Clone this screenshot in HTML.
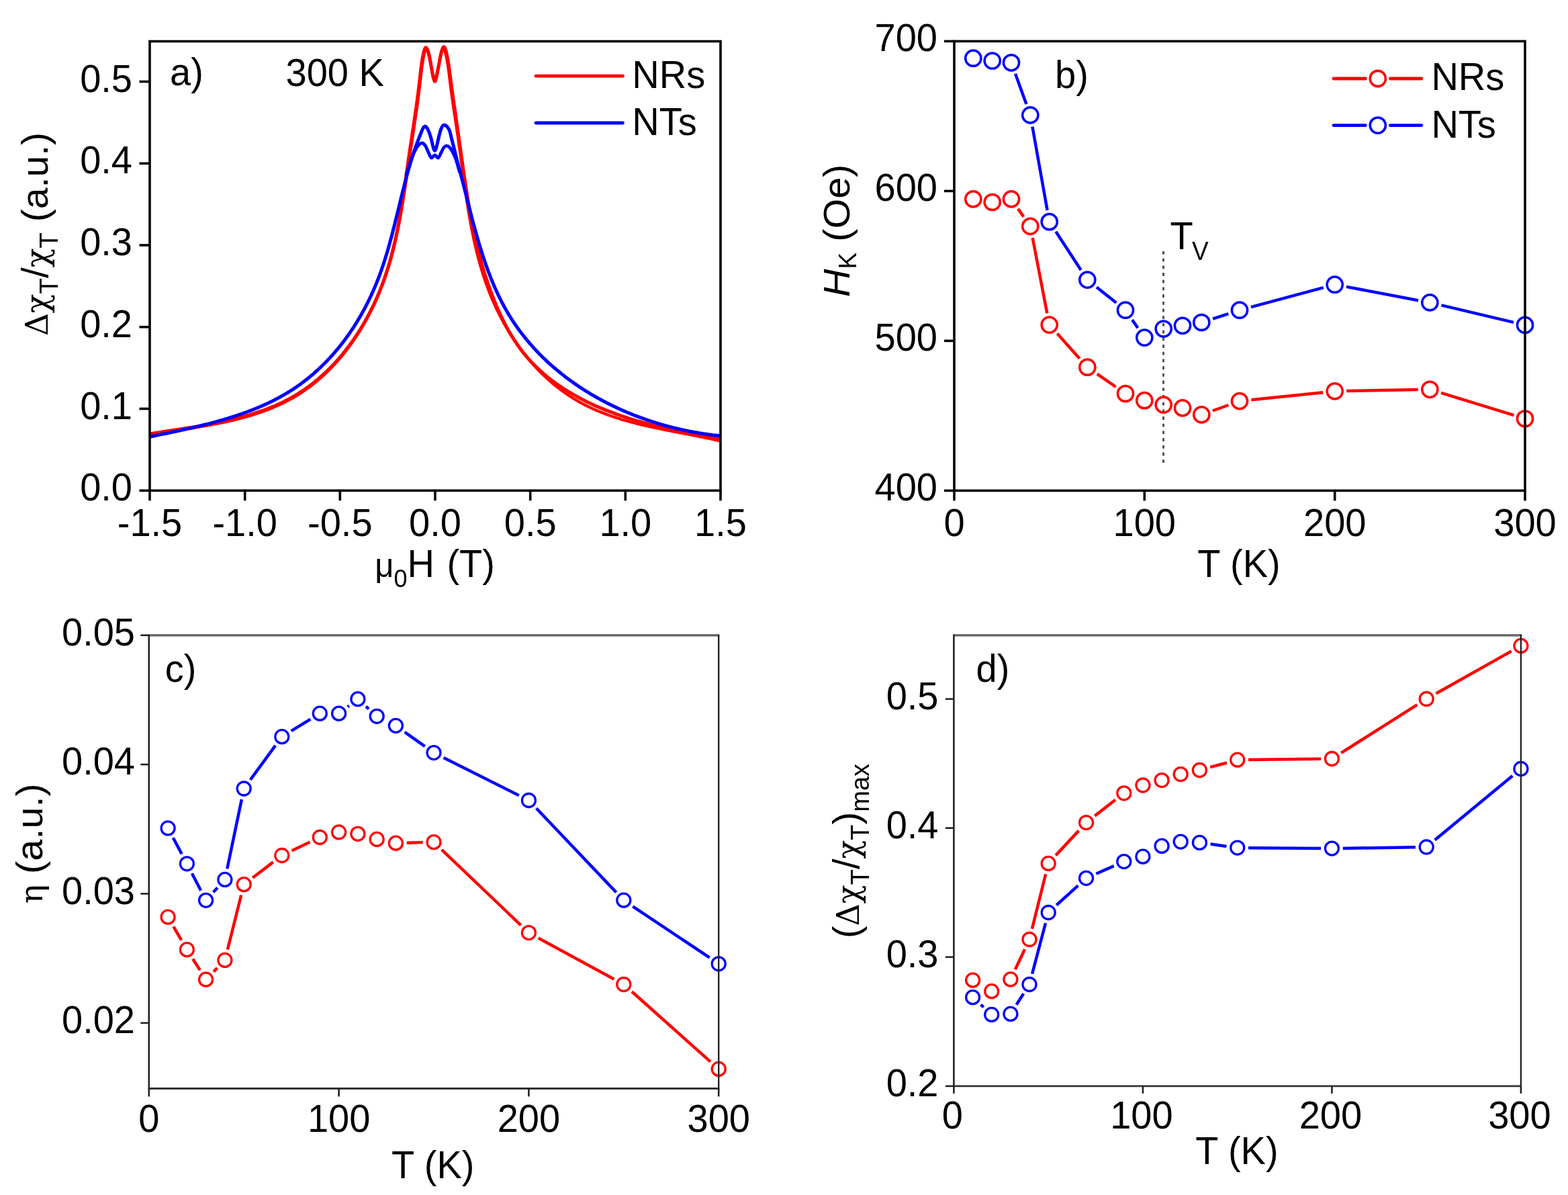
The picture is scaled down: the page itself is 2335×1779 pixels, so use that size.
<!DOCTYPE html><html><head><meta charset="utf-8"><title>Figure</title>
<style>html,body{margin:0;padding:0;background:#fff;}svg{display:block;}text{font-family:'Liberation Sans', Arial, sans-serif;fill:#000;}.g{font-family:'DejaVu Serif','Liberation Serif',serif;font-size:46px;}</style>
</head><body>
<svg width="2335" height="1779" viewBox="0 0 2335 1779">
<rect width="2335" height="1779" fill="#fff"/>
<defs><clipPath id="ca"><rect x="223" y="61.5" width="850" height="668.8"/></clipPath></defs>
<g fill="none" stroke-linejoin="round" stroke-linecap="round" clip-path="url(#ca)">
<path d="M214.7,648.8 L217.9,648.3 L221.1,647.7 L224.3,647.2 L227.6,646.6 L230.9,646.1 L234.1,645.6 L237.4,645.1 L240.8,644.5 L244.1,644 L247.4,643.5 L250.8,643 L254.2,642.5 L257.5,641.9 L260.9,641.4 L264.3,640.9 L267.8,640.4 L271.2,639.8 L274.6,639.3 L278.1,638.8 L281.5,638.2 L285,637.6 L288.4,637.1 L291.9,636.5 L295.4,635.9 L298.8,635.3 L302.3,634.7 L305.8,634.1 L309.3,633.5 L312.7,632.9 L316.2,632.2 L319.7,631.5 L323.2,630.8 L326.7,630.1 L330.1,629.4 L333.6,628.7 L337.1,627.9 L340.5,627.2 L344,626.4 L347.4,625.6 L350.8,624.7 L354.3,623.9 L357.7,623 L361.1,622.1 L364.5,621.1 L367.9,620.2 L371.3,619.2 L374.6,618.2 L378,617.2 L381.3,616.1 L384.6,615 L388,613.9 L391.2,612.7 L394.5,611.5 L397.8,610.3 L401,609 L404.2,607.8 L407.4,606.4 L410.6,605.1 L413.8,603.7 L416.9,602.3 L420,600.8 L423.1,599.3 L426.2,597.7 L429.2,596.2 L432.2,594.5 L435.2,592.9 L438.2,591.2 L441.1,589.4 L444,587.6 L446.9,585.8 L449.7,583.9 L452.6,582 L455.4,580.1 L458.1,578.1 L460.9,576.1 L463.6,574 L466.3,571.9 L469,569.8 L471.6,567.6 L474.2,565.4 L476.8,563.2 L479.3,560.9 L481.9,558.6 L484.4,556.3 L486.9,553.9 L489.3,551.5 L491.7,549.1 L494.1,546.6 L496.5,544.1 L498.8,541.6 L501.1,539.1 L503.4,536.5 L505.7,533.9 L507.9,531.3 L510.1,528.6 L512.3,525.9 L514.4,523.2 L516.6,520.5 L518.6,517.8 L520.7,515 L522.7,512.2 L524.8,509.4 L526.7,506.5 L528.7,503.6 L530.6,500.7 L532.5,497.8 L534.4,494.9 L536.2,492 L538.1,489 L539.9,486 L541.6,483 L543.3,480 L545.1,477 L546.7,473.9 L548.4,470.8 L550,467.7 L551.6,464.6 L553.2,461.5 L554.7,458.4 L556.2,455.3 L557.7,452.1 L559.2,449 L560.6,445.8 L562,442.6 L563.4,439.4 L564.7,436.2 L566,433 L567.3,429.8 L568.6,426.5 L569.8,423.3 L571,420 L572.2,416.8 L573.3,413.5 L574.5,410.3 L575.6,407 L576.6,403.7 L577.7,400.4 L578.7,397.1 L579.7,393.9 L580.7,390.6 L581.6,387.2 L582.5,383.9 L583.4,380.6 L584.3,377.3 L585.2,374 L586,370.6 L586.9,367.3 L587.7,363.9 L588.5,360.6 L589.2,357.2 L590,353.9 L590.7,350.5 L591.4,347.1 L592.1,343.8 L592.8,340.4 L593.5,337 L594.2,333.6 L594.8,330.2 L595.5,326.8 L596.1,323.5 L596.7,320.1 L597.3,316.6 L597.9,313.2 L598.5,309.8 L599,306.4 L599.6,303 L600.2,299.6 L600.7,296.1 L601.3,292.7 L601.8,289.3 L602.3,285.9 L602.9,282.4 L603.4,279 L603.9,275.5 L604.4,272.1 L604.9,268.6 L605.4,265.2 L605.9,261.7 L606.4,258.3 L606.9,254.8 L607.4,251.4 L607.9,247.9 L608.4,244.5 L609,241 L609.5,237.5 L610,234.1 L610.5,230.6 L611,227.2 L611.5,223.7 L612,220.2 L612.6,216.8 L613.1,213.3 L613.6,209.8 L614.1,206.4 L614.7,202.9 L615.2,199.4 L615.7,196 L616.2,192.5 L616.7,189.1 L617.2,185.6 L617.7,182.2 L618.2,178.8 L618.7,175.3 L619.2,171.9 L619.7,168.5 L620.2,165.1 L620.7,161.7 L621.2,158.3 L621.7,154.9 L622.1,151.5 L622.6,148.1 L623,144.7 L623.5,141.3 L623.9,138 L624.3,134.6 L624.7,131.3 L625.1,128 L625.5,124.6 L625.9,121.3 L626.3,118 L626.6,114.8 L627,111.5 L627.4,108.1 L627.8,104.7 L628.2,101.2 L628.7,97.6 L629.3,93.8 L629.9,89.9 L630.6,85.7 L631.5,81.4 L632.4,77.4 L633.4,74.2 L634.5,72.3 L635.7,72.3 L636.9,74.1 L638.1,77.3 L639.2,81.3 L640.2,85.6 L640.9,89.6 L641.5,93.2 L642,96.7 L642.4,100 L642.8,103.3 L643.3,106.8 L643.9,110.6 L644.7,114.7 L645.7,118.5 L646.7,121.1 L647.8,121.6 L648.9,119.8 L649.9,116.4 L650.7,112.3 L651.5,108.4 L652.1,104.8 L652.6,101.4 L653.1,98.1 L653.6,94.7 L654.2,91 L654.9,87 L655.8,82.7 L656.7,78.6 L657.8,75.2 L658.9,72.9 L660,72.1 L661.1,73 L662.2,75.4 L663.3,78.9 L664.3,83 L665.2,87.5 L666,91.9 L666.7,96 L667.3,99.9 L667.8,103.6 L668.3,107.1 L668.7,110.5 L669.1,113.8 L669.5,117.1 L669.9,120.3 L670.3,123.6 L670.7,126.9 L671.1,130.2 L671.6,133.5 L672,136.9 L672.5,140.2 L673,143.6 L673.4,146.9 L673.9,150.3 L674.4,153.7 L674.9,157.1 L675.4,160.5 L675.9,163.9 L676.4,167.3 L676.9,170.7 L677.5,174.1 L678,177.6 L678.5,181 L679,184.5 L679.5,187.9 L680,191.4 L680.5,194.8 L681,198.3 L681.6,201.7 L682.1,205.2 L682.5,208.7 L683,212.1 L683.5,215.6 L684,219.1 L684.5,222.5 L685,226 L685.4,229.5 L685.9,232.9 L686.4,236.4 L686.8,239.9 L687.3,243.4 L687.8,246.8 L688.3,250.3 L688.7,253.8 L689.2,257.2 L689.7,260.7 L690.1,264.2 L690.6,267.6 L691.1,271.1 L691.6,274.6 L692.1,278 L692.6,281.5 L693.1,284.9 L693.6,288.4 L694.1,291.8 L694.6,295.3 L695.1,298.7 L695.6,302.2 L696.2,305.6 L696.7,309 L697.3,312.5 L697.9,315.9 L698.4,319.3 L699,322.8 L699.6,326.2 L700.2,329.6 L700.9,333 L701.5,336.4 L702.1,339.8 L702.8,343.2 L703.5,346.6 L704.2,350 L704.9,353.4 L705.6,356.7 L706.3,360.1 L707.1,363.5 L707.9,366.8 L708.7,370.2 L709.5,373.5 L710.3,376.9 L711.2,380.2 L712,383.5 L712.9,386.8 L713.8,390.2 L714.7,393.5 L715.7,396.8 L716.7,400.1 L717.7,403.3 L718.7,406.6 L719.7,409.9 L720.8,413.1 L721.9,416.4 L723,419.6 L724.1,422.9 L725.3,426.1 L726.5,429.3 L727.7,432.5 L728.9,435.7 L730.2,438.9 L731.5,442.1 L732.9,445.3 L734.2,448.4 L735.6,451.6 L737,454.7 L738.5,457.9 L740,461 L741.5,464.1 L743,467.2 L744.6,470.3 L746.2,473.3 L747.8,476.4 L749.4,479.4 L751.1,482.4 L752.8,485.4 L754.6,488.4 L756.3,491.4 L758.1,494.4 L759.9,497.3 L761.8,500.2 L763.7,503.1 L765.6,506 L767.5,508.8 L769.5,511.7 L771.5,514.5 L773.5,517.3 L775.5,520.1 L777.6,522.8 L779.7,525.5 L781.9,528.3 L784,530.9 L786.2,533.6 L788.4,536.2 L790.7,538.8 L792.9,541.4 L795.2,544 L797.6,546.5 L799.9,549 L802.3,551.5 L804.7,553.9 L807.1,556.3 L809.6,558.7 L812.1,561 L814.6,563.4 L817.1,565.7 L819.7,567.9 L822.3,570.1 L824.9,572.3 L827.6,574.5 L830.3,576.6 L833,578.7 L835.7,580.8 L838.4,582.8 L841.2,584.8 L844,586.7 L846.9,588.7 L849.7,590.5 L852.6,592.4 L855.5,594.2 L858.5,595.9 L861.4,597.7 L864.4,599.4 L867.5,601 L870.5,602.6 L873.6,604.2 L876.7,605.7 L879.8,607.2 L882.9,608.6 L886.1,610 L889.3,611.4 L892.5,612.7 L895.7,614 L899,615.3 L902.2,616.5 L905.5,617.7 L908.8,618.9 L912.1,620.1 L915.5,621.2 L918.8,622.3 L922.2,623.3 L925.5,624.4 L928.9,625.4 L932.3,626.3 L935.7,627.3 L939.1,628.2 L942.6,629.2 L946,630 L949.4,630.9 L952.9,631.8 L956.3,632.6 L959.8,633.4 L963.3,634.2 L966.7,635 L970.2,635.8 L973.7,636.5 L977.1,637.3 L980.6,638 L984.1,638.7 L987.6,639.4 L991,640.1 L994.5,640.8 L998,641.5 L1001.4,642.2 L1004.9,642.9 L1008.3,643.5 L1011.8,644.2 L1015.2,644.8 L1018.6,645.5 L1022,646.2 L1025.5,646.8 L1028.8,647.5 L1032.2,648.1 L1035.6,648.8 L1039,649.4 L1042.3,650.1 L1045.6,650.8 L1049,651.4 L1052.3,652.1 L1055.5,652.8 L1058.8,653.5 L1062.1,654.2 L1065.3,654.9 L1068.5,655.6 L1071.7,656.4 L1074.9,657.1 L1078,657.9 L1081.1,658.7" stroke="#ff0000" stroke-width="4.2"/>
<path d="M214.7,647.3 L217.9,646.8 L221.1,646.2 L224.3,645.7 L227.6,645.1 L230.8,644.6 L234.1,644.1 L237.4,643.6 L240.7,643 L244.1,642.5 L247.4,642 L250.8,641.5 L254.1,641 L257.5,640.5 L260.9,639.9 L264.3,639.4 L267.7,638.9 L271.2,638.4 L274.6,637.8 L278,637.3 L281.5,636.7 L284.9,636.2 L288.4,635.6 L291.8,635.1 L295.3,634.5 L298.8,633.9 L302.2,633.3 L305.7,632.7 L309.2,632 L312.6,631.4 L316.1,630.7 L319.6,630.1 L323,629.4 L326.5,628.7 L330,628 L333.4,627.2 L336.9,626.5 L340.3,625.7 L343.8,624.9 L347.2,624.1 L350.6,623.3 L354.1,622.4 L357.5,621.5 L360.9,620.6 L364.3,619.7 L367.6,618.7 L371,617.8 L374.4,616.7 L377.7,615.7 L381,614.6 L384.4,613.5 L387.7,612.4 L390.9,611.3 L394.2,610.1 L397.5,608.9 L400.7,607.6 L403.9,606.3 L407.1,605 L410.3,603.7 L413.4,602.3 L416.6,600.9 L419.7,599.4 L422.7,597.9 L425.8,596.3 L428.8,594.8 L431.9,593.1 L434.8,591.5 L437.8,589.8 L440.7,588 L443.6,586.3 L446.5,584.4 L449.4,582.6 L452.2,580.7 L455,578.7 L457.8,576.8 L460.5,574.7 L463.3,572.7 L466,570.6 L468.6,568.5 L471.3,566.3 L473.9,564.1 L476.5,561.9 L479,559.7 L481.6,557.4 L484.1,555 L486.6,552.7 L489,550.3 L491.4,547.9 L493.8,545.4 L496.2,543 L498.6,540.5 L500.9,537.9 L503.2,535.4 L505.4,532.8 L507.7,530.1 L509.9,527.5 L512.1,524.8 L514.2,522.1 L516.3,519.4 L518.4,516.7 L520.5,513.9 L522.6,511.1 L524.6,508.3 L526.6,505.5 L528.5,502.6 L530.5,499.7 L532.4,496.8 L534.2,493.9 L536.1,491 L537.9,488 L539.7,485 L541.5,482 L543.2,479 L544.9,476 L546.6,472.9 L548.2,469.9 L549.9,466.8 L551.5,463.7 L553,460.6 L554.6,457.5 L556.1,454.4 L557.6,451.2 L559,448.1 L560.4,444.9 L561.8,441.7 L563.2,438.5 L564.6,435.3 L565.9,432.1 L567.1,428.9 L568.4,425.7 L569.6,422.4 L570.8,419.2 L572,415.9 L573.1,412.7 L574.2,409.4 L575.3,406.1 L576.4,402.9 L577.4,399.6 L578.4,396.3 L579.4,393 L580.4,389.7 L581.3,386.4 L582.2,383.1 L583.1,379.8 L584,376.4 L584.8,373.1 L585.6,369.8 L586.4,366.4 L587.2,363.1 L588,359.7 L588.8,356.4 L589.5,353 L590.2,349.6 L590.9,346.3 L591.6,342.9 L592.3,339.5 L592.9,336.1 L593.6,332.8 L594.2,329.4 L594.8,326 L595.4,322.6 L596,319.2 L596.6,315.8 L597.2,312.4 L597.7,309 L598.3,305.5 L598.8,302.1 L599.4,298.7 L599.9,295.3 L600.4,291.8 L600.9,288.4 L601.4,285 L602,281.6 L602.5,278.1 L603,274.7 L603.5,271.2 L603.9,267.8 L604.4,264.4 L604.9,260.9 L605.4,257.5 L605.9,254 L606.4,250.6 L606.9,247.1 L607.4,243.7 L607.9,240.2 L608.4,236.7 L608.9,233.3 L609.4,229.8 L609.9,226.4 L610.4,222.9 L610.9,219.5 L611.4,216 L612,212.6 L612.5,209.1 L613,205.6 L613.5,202.2 L614,198.7 L614.6,195.3 L615.1,191.9 L615.6,188.4 L616.1,185 L616.6,181.5 L617.1,178.1 L617.6,174.7 L618.1,171.3 L618.6,167.8 L619.1,164.4 L619.6,161 L620.1,157.6 L620.5,154.2 L621,150.8 L621.5,147.4 L621.9,144.1 L622.4,140.7 L622.8,137.3 L623.2,134 L623.6,130.6 L624,127.3 L624.4,124 L624.8,120.6 L625.2,117.3 L625.5,114 L625.9,110.7 L626.3,107.4 L626.7,104 L627.1,100.5 L627.6,96.9 L628.1,93.2 L628.7,89.3 L629.4,85.3 L630.3,81.1 L631.2,77 L632.2,73.6 L633.3,71.3 L634.4,70.7 L635.5,72 L636.7,74.8 L637.8,78.5 L638.9,82.6 L639.8,86.8 L640.6,90.6 L641.2,94.2 L641.9,97.7 L642.5,101.1 L643.2,104.6 L643.9,108.3 L644.7,112.1 L645.7,115.6 L646.7,118 L647.7,118.6 L648.7,117.1 L649.7,114.1 L650.7,110.4 L651.5,106.6 L652.2,103.1 L652.9,99.7 L653.6,96.2 L654.3,92.7 L655,88.9 L655.8,84.9 L656.7,80.6 L657.7,76.5 L658.7,73.1 L659.8,70.6 L660.9,69.7 L662,70.4 L663,72.6 L664.1,75.9 L665,80 L666,84.4 L666.8,88.8 L667.5,92.9 L668.1,96.8 L668.7,100.5 L669.2,104 L669.6,107.4 L670.1,110.7 L670.5,113.9 L670.9,117.2 L671.3,120.4 L671.8,123.7 L672.2,127 L672.6,130.3 L673.1,133.7 L673.5,137 L674,140.4 L674.5,143.7 L674.9,147.1 L675.4,150.5 L675.9,153.9 L676.4,157.3 L676.9,160.7 L677.4,164.2 L677.9,167.6 L678.4,171 L678.9,174.5 L679.4,177.9 L679.9,181.4 L680.4,184.8 L680.9,188.3 L681.3,191.8 L681.8,195.2 L682.3,198.7 L682.8,202.2 L683.3,205.6 L683.8,209.1 L684.3,212.5 L684.8,216 L685.3,219.4 L685.8,222.9 L686.2,226.3 L686.7,229.8 L687.2,233.2 L687.7,236.7 L688.2,240.1 L688.7,243.5 L689.2,247 L689.6,250.4 L690.1,253.8 L690.6,257.3 L691.1,260.7 L691.6,264.1 L692.1,267.5 L692.7,270.9 L693.2,274.4 L693.7,277.8 L694.2,281.2 L694.8,284.6 L695.3,288 L695.8,291.4 L696.4,294.8 L696.9,298.2 L697.5,301.6 L698.1,305 L698.7,308.4 L699.3,311.7 L699.9,315.1 L700.5,318.5 L701.1,321.9 L701.7,325.2 L702.4,328.6 L703.1,332 L703.7,335.4 L704.4,338.7 L705.1,342.1 L705.8,345.4 L706.5,348.8 L707.3,352.1 L708,355.5 L708.8,358.8 L709.5,362.2 L710.3,365.5 L711.1,368.8 L712,372.2 L712.8,375.5 L713.6,378.8 L714.5,382.1 L715.4,385.4 L716.3,388.8 L717.2,392.1 L718.2,395.4 L719.2,398.7 L720.1,402 L721.1,405.3 L722.2,408.6 L723.2,411.9 L724.3,415.1 L725.4,418.4 L726.5,421.7 L727.6,425 L728.8,428.2 L729.9,431.5 L731.1,434.8 L732.4,438 L733.6,441.3 L734.9,444.5 L736.2,447.8 L737.5,451 L738.8,454.2 L740.2,457.5 L741.6,460.7 L743,463.9 L744.5,467.1 L746,470.2 L747.5,473.4 L749,476.5 L750.6,479.7 L752.2,482.8 L753.9,485.9 L755.5,488.9 L757.2,492 L759,495 L760.7,498 L762.5,501 L764.4,503.9 L766.3,506.8 L768.2,509.7 L770.1,512.6 L772.1,515.4 L774.1,518.2 L776.2,521 L778.3,523.7 L780.4,526.4 L782.6,529.1 L784.8,531.7 L787.1,534.3 L789.3,536.8 L791.7,539.4 L794,541.8 L796.5,544.3 L798.9,546.7 L801.4,549 L803.9,551.4 L806.4,553.7 L809,555.9 L811.6,558.1 L814.2,560.3 L816.9,562.5 L819.6,564.6 L822.3,566.7 L825.1,568.7 L827.9,570.8 L830.7,572.7 L833.5,574.7 L836.4,576.6 L839.2,578.5 L842.2,580.4 L845.1,582.2 L848,584 L851,585.7 L854,587.5 L857,589.2 L860,590.8 L863,592.5 L866.1,594.1 L869.2,595.7 L872.2,597.2 L875.3,598.8 L878.5,600.2 L881.6,601.7 L884.7,603.2 L887.9,604.6 L891,606 L894.2,607.3 L897.4,608.6 L900.6,610 L903.8,611.2 L907.1,612.5 L910.3,613.7 L913.5,614.9 L916.8,616.1 L920,617.3 L923.3,618.4 L926.6,619.5 L929.9,620.6 L933.2,621.7 L936.5,622.8 L939.8,623.8 L943.1,624.8 L946.5,625.8 L949.8,626.8 L953.2,627.7 L956.5,628.7 L959.9,629.6 L963.2,630.5 L966.6,631.4 L970,632.2 L973.3,633.1 L976.7,633.9 L980.1,634.7 L983.5,635.5 L986.9,636.3 L990.3,637.1 L993.7,637.8 L997.1,638.6 L1000.5,639.3 L1003.9,640 L1007.3,640.7 L1010.7,641.4 L1014.1,642.1 L1017.5,642.8 L1020.9,643.5 L1024.3,644.1 L1027.7,644.7 L1031.1,645.4 L1034.5,646 L1037.9,646.6 L1041.3,647.2 L1044.7,647.8 L1048.1,648.4 L1051.5,649 L1054.9,649.6 L1058.2,650.1 L1061.6,650.7 L1065,651.2 L1068.4,651.8 L1071.7,652.3 L1075.1,652.9 L1078.5,653.4 L1081.8,654" stroke="#ff0000" stroke-width="5.0"/>
<path d="M214.5,652 L217.3,651.4 L220,650.9 L222.7,650.3 L225.5,649.8 L228.2,649.2 L231,648.6 L233.7,648 L236.5,647.5 L239.3,646.9 L242.1,646.3 L244.9,645.7 L247.7,645.2 L250.5,644.6 L253.3,644 L256.2,643.4 L259,642.8 L261.8,642.2 L264.7,641.6 L267.5,641 L270.4,640.3 L273.2,639.7 L276.1,639.1 L278.9,638.4 L281.8,637.8 L284.7,637.1 L287.5,636.5 L290.4,635.8 L293.3,635.1 L296.1,634.4 L299,633.8 L301.9,633 L304.7,632.3 L307.6,631.6 L310.5,630.9 L313.3,630.1 L316.2,629.4 L319,628.6 L321.9,627.8 L324.8,627 L327.6,626.2 L330.5,625.4 L333.3,624.6 L336.1,623.7 L339,622.9 L341.8,622 L344.6,621.1 L347.5,620.2 L350.3,619.3 L353.1,618.4 L355.9,617.4 L358.7,616.5 L361.5,615.5 L364.2,614.5 L367,613.5 L369.8,612.5 L372.5,611.4 L375.3,610.4 L378,609.3 L380.7,608.2 L383.4,607.1 L386.1,606 L388.8,604.8 L391.5,603.6 L394.2,602.4 L396.8,601.2 L399.5,600 L402.1,598.7 L404.7,597.5 L407.3,596.2 L409.9,594.8 L412.5,593.5 L415,592.1 L417.6,590.7 L420.1,589.3 L422.6,587.9 L425.1,586.4 L427.6,585 L430.1,583.5 L432.5,581.9 L435,580.4 L437.4,578.8 L439.8,577.2 L442.2,575.5 L444.5,573.9 L446.9,572.2 L449.2,570.5 L451.5,568.8 L453.8,567 L456.1,565.3 L458.3,563.5 L460.6,561.7 L462.8,559.8 L465,558 L467.2,556.1 L469.3,554.2 L471.5,552.2 L473.6,550.3 L475.7,548.3 L477.8,546.4 L479.9,544.3 L482,542.3 L484,540.3 L486,538.2 L488,536.1 L490,534 L492,531.9 L493.9,529.7 L495.8,527.6 L497.8,525.4 L499.6,523.2 L501.5,521 L503.4,518.8 L505.2,516.5 L507,514.3 L508.8,512 L510.6,509.7 L512.4,507.4 L514.1,505 L515.8,502.7 L517.5,500.3 L519.2,498 L520.9,495.6 L522.5,493.2 L524.2,490.7 L525.8,488.3 L527.4,485.9 L528.9,483.4 L530.5,480.9 L532,478.4 L533.5,475.9 L535,473.4 L536.5,470.9 L538,468.4 L539.4,465.8 L540.8,463.3 L542.2,460.7 L543.6,458.1 L545,455.5 L546.3,452.9 L547.6,450.3 L548.9,447.7 L550.2,445 L551.5,442.4 L552.7,439.7 L553.9,437.1 L555.1,434.4 L556.3,431.7 L557.5,429 L558.6,426.4 L559.8,423.6 L560.9,420.9 L561.9,418.2 L563,415.5 L564.1,412.8 L565.1,410 L566.1,407.3 L567.1,404.5 L568.1,401.8 L569,399 L570,396.2 L570.9,393.5 L571.8,390.7 L572.7,387.9 L573.6,385.1 L574.4,382.3 L575.3,379.5 L576.1,376.7 L577,373.9 L577.8,371.1 L578.6,368.3 L579.4,365.5 L580.2,362.6 L580.9,359.8 L581.7,357 L582.5,354.2 L583.2,351.3 L584,348.5 L584.7,345.7 L585.4,342.8 L586.2,340 L586.9,337.1 L587.6,334.3 L588.3,331.5 L589,328.6 L589.7,325.8 L590.4,322.9 L591.1,320.1 L591.8,317.3 L592.5,314.4 L593.2,311.6 L593.9,308.7 L594.6,305.9 L595.3,303.1 L595.9,300.2 L596.6,297.4 L597.3,294.6 L598,291.7 L598.7,288.9 L599.4,286.1 L600.1,283.3 L600.9,280.4 L601.6,277.6 L602.3,274.8 L603,272 L603.8,269.2 L604.5,266.4 L605.2,263.6 L606,260.8 L606.8,258 L607.5,255.3 L608.3,252.5 L609.1,249.7 L609.9,247 L610.7,244.2 L611.6,241.4 L612.4,238.7 L613.3,236 L614.1,233.2 L615,230.5 L615.9,227.8 L616.8,225.1 L617.7,222.4 L618.7,219.7 L619.6,217 L620.6,214.3 L621.6,211.6 L622.6,208.9 L623.7,206.1 L624.8,203.2 L626,200.3 L627.2,197.2 L628.5,194.1 L629.8,191.2 L631.2,189 L632.7,188 L634.3,188.6 L635.8,190.4 L637.4,193.2 L638.8,196.4 L640,199.7 L641,202.7 L641.8,205.6 L642.6,208.5 L643.3,211.5 L644,214.6 L644.8,218 L645.7,221.1 L646.6,223.4 L647.5,224.2 L648.5,223.2 L649.4,220.9 L650.3,217.7 L651.1,214.3 L651.8,211.1 L652.5,208.1 L653.2,205.2 L653.8,202.4 L654.6,199.4 L655.4,196.3 L656.4,193.1 L657.6,190.1 L659,187.6 L660.7,186.2 L662.6,186.2 L664.8,187.6 L666.8,189.8 L668.4,192.4 L669.6,195.1 L670.5,198 L671.2,200.9 L671.9,203.9 L672.6,206.8 L673.3,209.7 L674,212.5 L674.8,215.4 L675.5,218.2 L676.2,221.1 L676.9,223.9 L677.6,226.7 L678.3,229.5 L679,232.3 L679.7,235 L680.4,237.8 L681.2,240.6 L681.9,243.3 L682.6,246.1 L683.3,248.8 L684,251.5 L684.7,254.3 L685.4,257 L686.1,259.7 L686.9,262.5 L687.6,265.2 L688.3,268 L689,270.7 L689.7,273.5 L690.4,276.2 L691.1,279 L691.8,281.8 L692.6,284.6 L693.3,287.4 L694,290.2 L694.7,293 L695.4,295.8 L696.1,298.6 L696.8,301.4 L697.6,304.3 L698.3,307.1 L699,310 L699.8,312.8 L700.5,315.7 L701.2,318.5 L702,321.4 L702.7,324.2 L703.5,327.1 L704.2,329.9 L705,332.8 L705.8,335.7 L706.6,338.5 L707.4,341.4 L708.1,344.3 L708.9,347.1 L709.8,350 L710.6,352.9 L711.4,355.7 L712.2,358.6 L713.1,361.5 L713.9,364.3 L714.8,367.2 L715.7,370 L716.6,372.9 L717.5,375.7 L718.4,378.6 L719.3,381.4 L720.2,384.2 L721.2,387.1 L722.1,389.9 L723.1,392.7 L724.1,395.5 L725.1,398.3 L726.1,401.1 L727.1,403.9 L728.2,406.6 L729.3,409.4 L730.3,412.2 L731.4,414.9 L732.5,417.7 L733.6,420.4 L734.8,423.1 L735.9,425.8 L737.1,428.5 L738.3,431.2 L739.5,433.9 L740.8,436.5 L742,439.2 L743.3,441.8 L744.6,444.5 L745.9,447.1 L747.2,449.7 L748.6,452.2 L749.9,454.8 L751.3,457.4 L752.7,459.9 L754.2,462.4 L755.6,464.9 L757.1,467.4 L758.6,469.9 L760.1,472.3 L761.7,474.8 L763.2,477.2 L764.8,479.6 L766.4,482 L768.1,484.4 L769.7,486.7 L771.4,489.1 L773.1,491.4 L774.8,493.7 L776.5,496 L778.3,498.3 L780.1,500.5 L781.8,502.8 L783.7,505 L785.5,507.2 L787.3,509.4 L789.2,511.6 L791.1,513.7 L793,515.9 L794.9,518 L796.9,520.1 L798.8,522.2 L800.8,524.3 L802.8,526.4 L804.8,528.4 L806.8,530.5 L808.9,532.5 L811,534.5 L813,536.4 L815.1,538.4 L817.2,540.4 L819.4,542.3 L821.5,544.2 L823.7,546.1 L825.9,548 L828.1,549.8 L830.3,551.7 L832.5,553.5 L834.7,555.3 L837,557.1 L839.3,558.9 L841.5,560.7 L843.8,562.4 L846.2,564.2 L848.5,565.9 L850.8,567.6 L853.2,569.3 L855.5,570.9 L857.9,572.6 L860.3,574.2 L862.7,575.8 L865.1,577.4 L867.6,579 L870,580.6 L872.5,582.1 L875,583.6 L877.4,585.2 L879.9,586.7 L882.4,588.1 L885,589.6 L887.5,591 L890,592.5 L892.6,593.9 L895.1,595.3 L897.7,596.7 L900.3,598 L902.9,599.4 L905.5,600.7 L908.1,602 L910.7,603.3 L913.3,604.6 L916,605.8 L918.6,607.1 L921.3,608.3 L924,609.5 L926.6,610.7 L929.3,611.9 L932,613 L934.7,614.2 L937.4,615.3 L940.2,616.4 L942.9,617.5 L945.6,618.6 L948.4,619.6 L951.1,620.7 L953.9,621.7 L956.6,622.7 L959.4,623.7 L962.2,624.6 L965,625.6 L967.7,626.5 L970.5,627.4 L973.3,628.3 L976.1,629.2 L978.9,630.1 L981.8,630.9 L984.6,631.8 L987.4,632.6 L990.2,633.4 L993.1,634.2 L995.9,634.9 L998.8,635.7 L1001.6,636.4 L1004.5,637.1 L1007.3,637.8 L1010.2,638.5 L1013,639.1 L1015.9,639.8 L1018.8,640.4 L1021.7,641 L1024.5,641.6 L1027.4,642.2 L1030.3,642.7 L1033.2,643.3 L1036.1,643.8 L1038.9,644.3 L1041.8,644.8 L1044.7,645.2 L1047.6,645.7 L1050.5,646.1 L1053.4,646.5 L1056.3,646.9 L1059.2,647.3 L1062.1,647.7 L1065,648 L1067.9,648.3 L1070.8,648.6 L1073.7,648.9 L1076.6,649.2 L1079.5,649.5 L1082.3,649.7" stroke="#0000ff" stroke-width="5.0"/>
<path d="M605,260 C606.4,255.8 610.8,241.6 613.3,235 C615.8,228.4 618,223.9 620,220.5 C622,217.1 623.4,215.8 625,214.5 C626.6,213.2 628,212.4 629.5,213 C631,213.6 632.5,215.5 634,218 C635.5,220.5 637.1,225.2 638.5,228 C639.9,230.8 641,234.5 642.5,235 C644,235.5 645.8,231 647.5,231 C649.2,231 650.9,235.7 652.5,235 C654.1,234.3 655.6,229.6 657,227 C658.4,224.4 659.6,221.1 661,219.5 C662.4,217.9 663.7,217.1 665.2,217.2 C666.7,217.3 668.1,217.6 670,220 C671.9,222.4 675,228 676.7,231.7 C678.4,235.4 679.2,238.1 680.4,242 C681.6,245.9 683.4,252.8 684,255" stroke="#0000ff" stroke-width="4.8"/>
</g>
<rect x="223" y="61.5" width="850" height="668.8" fill="none" stroke="#000" stroke-width="3.6"/>
<line x1="223" y1="730.3" x2="223" y2="745.3" stroke="#000" stroke-width="3.6"/>
<text transform="translate(223,797.5) scale(1.0,1.03)" font-size="56" text-anchor="middle">-1.5</text>
<line x1="364.7" y1="730.3" x2="364.7" y2="745.3" stroke="#000" stroke-width="3.6"/>
<text transform="translate(364.7,797.5) scale(1.0,1.03)" font-size="56" text-anchor="middle">-1.0</text>
<line x1="506.3" y1="730.3" x2="506.3" y2="745.3" stroke="#000" stroke-width="3.6"/>
<text transform="translate(506.3,797.5) scale(1.0,1.03)" font-size="56" text-anchor="middle">-0.5</text>
<line x1="648" y1="730.3" x2="648" y2="745.3" stroke="#000" stroke-width="3.6"/>
<text transform="translate(648,797.5) scale(1.0,1.03)" font-size="56" text-anchor="middle">0.0</text>
<line x1="789.7" y1="730.3" x2="789.7" y2="745.3" stroke="#000" stroke-width="3.6"/>
<text transform="translate(789.7,797.5) scale(1.0,1.03)" font-size="56" text-anchor="middle">0.5</text>
<line x1="931.3" y1="730.3" x2="931.3" y2="745.3" stroke="#000" stroke-width="3.6"/>
<text transform="translate(931.3,797.5) scale(1.0,1.03)" font-size="56" text-anchor="middle">1.0</text>
<line x1="1073" y1="730.3" x2="1073" y2="745.3" stroke="#000" stroke-width="3.6"/>
<text transform="translate(1073,797.5) scale(1.0,1.03)" font-size="56" text-anchor="middle">1.5</text>
<line x1="207.5" y1="730.3" x2="223" y2="730.3" stroke="#000" stroke-width="3.6"/>
<text transform="translate(197,745.3) scale(1.0,1.03)" font-size="56" text-anchor="end">0.0</text>
<line x1="207.5" y1="608.5" x2="223" y2="608.5" stroke="#000" stroke-width="3.6"/>
<text transform="translate(197,623.5) scale(1.0,1.03)" font-size="56" text-anchor="end">0.1</text>
<line x1="207.5" y1="486.8" x2="223" y2="486.8" stroke="#000" stroke-width="3.6"/>
<text transform="translate(197,501.8) scale(1.0,1.03)" font-size="56" text-anchor="end">0.2</text>
<line x1="207.5" y1="365" x2="223" y2="365" stroke="#000" stroke-width="3.6"/>
<text transform="translate(197,380) scale(1.0,1.03)" font-size="56" text-anchor="end">0.3</text>
<line x1="207.5" y1="243.3" x2="223" y2="243.3" stroke="#000" stroke-width="3.6"/>
<text transform="translate(197,258.3) scale(1.0,1.03)" font-size="56" text-anchor="end">0.4</text>
<line x1="207.5" y1="121.5" x2="223" y2="121.5" stroke="#000" stroke-width="3.6"/>
<text transform="translate(197,136.5) scale(1.0,1.03)" font-size="56" text-anchor="end">0.5</text>
<text transform="translate(253,127.2) scale(1.0,1.03)" font-size="56" text-anchor="start">a)</text>
<text transform="translate(425.6,127.8) scale(1.0,1.03)" font-size="56" text-anchor="start">300 K</text>
<line x1="798" y1="113.2" x2="927.5" y2="113.2" stroke="#ff0000" stroke-width="4.8" stroke-linecap="round"/>
<line x1="798" y1="183" x2="927.5" y2="183" stroke="#0000ff" stroke-width="4.8" stroke-linecap="round"/>
<text transform="translate(941.3,130.8) scale(1.0,1.03)" font-size="56" text-anchor="start">NRs</text>
<text transform="translate(941.3,200.7) scale(1.0,1.03)" font-size="56" text-anchor="start">NTs</text>
<text transform="translate(650.5,859) scale(1,1.03)" font-size="56" text-anchor="middle"><tspan font-size="49" dx="-3">&#956;</tspan><tspan font-size="36" dy="15">0</tspan><tspan dy="-15">H</tspan><tspan dx="3"> (T)</tspan></text>
<text transform="translate(70.6,348.5) rotate(-90) scale(1.02,1)" font-size="56" text-anchor="middle"><tspan class="g">&#916;&#967;</tspan><tspan font-size="38" dy="15">T</tspan><tspan dy="-15">/</tspan><tspan class="g">&#967;</tspan><tspan font-size="38" dy="15">T</tspan><tspan dy="-15"> (a.u.)</tspan></text>
<line x1="1732.5" y1="374" x2="1732.5" y2="692" stroke="#555" stroke-width="3" stroke-dasharray="4.8,5.9"/>
<path d="M1516,310.7 L1524.3,322.6 M1537.7,354.1 L1559.3,466.4 M1574.4,496.6 L1607.6,533.7 M1633.7,556.7 L1661.6,576 M1805.8,611.5 L1829.5,603 M1863.4,595.3 L1970.3,584.2 M2005.2,582.1 L2111.8,580.1 M2146.1,584.9 L2254.3,618.2" stroke="#ff0000" stroke-width="4.5" fill="none" stroke-linecap="butt"/>
<circle cx="1449.3" cy="296.4" r="11.6" stroke="#ff0000" stroke-width="3.5" fill="none"/>
<circle cx="1477.7" cy="301" r="11.6" stroke="#ff0000" stroke-width="3.5" fill="none"/>
<circle cx="1506" cy="296.4" r="11.6" stroke="#ff0000" stroke-width="3.5" fill="none"/>
<circle cx="1534.3" cy="336.9" r="11.6" stroke="#ff0000" stroke-width="3.5" fill="none"/>
<circle cx="1562.7" cy="483.6" r="11.6" stroke="#ff0000" stroke-width="3.5" fill="none"/>
<circle cx="1619.3" cy="546.7" r="11.6" stroke="#ff0000" stroke-width="3.5" fill="none"/>
<circle cx="1676" cy="586" r="11.6" stroke="#ff0000" stroke-width="3.5" fill="none"/>
<circle cx="1704.3" cy="596.2" r="11.6" stroke="#ff0000" stroke-width="3.5" fill="none"/>
<circle cx="1732.7" cy="602.6" r="11.6" stroke="#ff0000" stroke-width="3.5" fill="none"/>
<circle cx="1761" cy="607.4" r="11.6" stroke="#ff0000" stroke-width="3.5" fill="none"/>
<circle cx="1789.3" cy="617.4" r="11.6" stroke="#ff0000" stroke-width="3.5" fill="none"/>
<circle cx="1846" cy="597.1" r="11.6" stroke="#ff0000" stroke-width="3.5" fill="none"/>
<circle cx="1987.7" cy="582.4" r="11.6" stroke="#ff0000" stroke-width="3.5" fill="none"/>
<circle cx="2129.3" cy="579.8" r="11.6" stroke="#ff0000" stroke-width="3.5" fill="none"/>
<circle cx="2271" cy="623.3" r="11.6" stroke="#ff0000" stroke-width="3.5" fill="none"/>
<path d="M1512,109.8 L1528.4,154.9 M1537.4,188.6 L1559.6,313 M1572.3,344.8 L1609.7,402 M1633,427.5 L1662.3,450.8 M1686,476.1 L1694.4,488.2 M1806,474.6 L1829.3,467.1 M1862.9,457.2 L1970.8,428.2 M2004.9,426.9 L2112.1,447.2 M2146.4,454.4 L2254,479.9" stroke="#0000ff" stroke-width="4.5" fill="none" stroke-linecap="butt"/>
<circle cx="1449.3" cy="86.7" r="11.6" stroke="#0000ff" stroke-width="3.5" fill="none"/>
<circle cx="1477.7" cy="90.5" r="11.6" stroke="#0000ff" stroke-width="3.5" fill="none"/>
<circle cx="1506" cy="93.3" r="11.6" stroke="#0000ff" stroke-width="3.5" fill="none"/>
<circle cx="1534.3" cy="171.4" r="11.6" stroke="#0000ff" stroke-width="3.5" fill="none"/>
<circle cx="1562.7" cy="330.2" r="11.6" stroke="#0000ff" stroke-width="3.5" fill="none"/>
<circle cx="1619.3" cy="416.6" r="11.6" stroke="#0000ff" stroke-width="3.5" fill="none"/>
<circle cx="1676" cy="461.7" r="11.6" stroke="#0000ff" stroke-width="3.5" fill="none"/>
<circle cx="1704.3" cy="502.6" r="11.6" stroke="#0000ff" stroke-width="3.5" fill="none"/>
<circle cx="1732.7" cy="489.5" r="11.6" stroke="#0000ff" stroke-width="3.5" fill="none"/>
<circle cx="1761" cy="484.8" r="11.6" stroke="#0000ff" stroke-width="3.5" fill="none"/>
<circle cx="1789.3" cy="480" r="11.6" stroke="#0000ff" stroke-width="3.5" fill="none"/>
<circle cx="1846" cy="461.7" r="11.6" stroke="#0000ff" stroke-width="3.5" fill="none"/>
<circle cx="1987.7" cy="423.7" r="11.6" stroke="#0000ff" stroke-width="3.5" fill="none"/>
<circle cx="2129.3" cy="450.4" r="11.6" stroke="#0000ff" stroke-width="3.5" fill="none"/>
<circle cx="2271" cy="483.9" r="11.6" stroke="#0000ff" stroke-width="3.5" fill="none"/>
<rect x="1421" y="61.4" width="850" height="669" fill="none" stroke="#000" stroke-width="3.6"/>
<line x1="1421" y1="730.4" x2="1421" y2="745.4" stroke="#000" stroke-width="3.6"/>
<text transform="translate(1421,798) scale(1.0,1.03)" font-size="56" text-anchor="middle">0</text>
<line x1="1704.3" y1="730.4" x2="1704.3" y2="745.4" stroke="#000" stroke-width="3.6"/>
<text transform="translate(1704.3,798) scale(1.0,1.03)" font-size="56" text-anchor="middle">100</text>
<line x1="1987.7" y1="730.4" x2="1987.7" y2="745.4" stroke="#000" stroke-width="3.6"/>
<text transform="translate(1987.7,798) scale(1.0,1.03)" font-size="56" text-anchor="middle">200</text>
<line x1="2271" y1="730.4" x2="2271" y2="745.4" stroke="#000" stroke-width="3.6"/>
<text transform="translate(2271,798) scale(1.0,1.03)" font-size="56" text-anchor="middle">300</text>
<line x1="1406" y1="730.4" x2="1421" y2="730.4" stroke="#000" stroke-width="3.6"/>
<text transform="translate(1396,745.4) scale(1.0,1.03)" font-size="56" text-anchor="end">400</text>
<line x1="1406" y1="507.4" x2="1421" y2="507.4" stroke="#000" stroke-width="3.6"/>
<text transform="translate(1396,522.4) scale(1.0,1.03)" font-size="56" text-anchor="end">500</text>
<line x1="1406" y1="284.4" x2="1421" y2="284.4" stroke="#000" stroke-width="3.6"/>
<text transform="translate(1396,299.4) scale(1.0,1.03)" font-size="56" text-anchor="end">600</text>
<line x1="1406" y1="61.4" x2="1421" y2="61.4" stroke="#000" stroke-width="3.6"/>
<text transform="translate(1396,76.4) scale(1.0,1.03)" font-size="56" text-anchor="end">700</text>
<text transform="translate(1571.1,131.4) scale(1.0,1.03)" font-size="56" text-anchor="start">b)</text>
<text transform="translate(1742.5,370.7) scale(1.0,1.03)" font-size="56" text-anchor="start">T</text>
<text transform="translate(1775,387.4) scale(1.0,1.03)" font-size="37" text-anchor="start">V</text>
<line x1="1986" y1="117" x2="2033.4" y2="117" stroke="#ff0000" stroke-width="4.8" stroke-linecap="round"/>
<line x1="2070.3" y1="117" x2="2116.8" y2="117" stroke="#ff0000" stroke-width="4.8" stroke-linecap="round"/>
<circle cx="2051.8" cy="117" r="11.6" stroke="#ff0000" stroke-width="3.6" fill="none"/>
<text transform="translate(2131.4,133.8) scale(1.0,1.03)" font-size="56" text-anchor="start">NRs</text>
<line x1="1986" y1="186.6" x2="2033.4" y2="186.6" stroke="#0000ff" stroke-width="4.8" stroke-linecap="round"/>
<line x1="2070.3" y1="186.6" x2="2116.8" y2="186.6" stroke="#0000ff" stroke-width="4.8" stroke-linecap="round"/>
<circle cx="2051.8" cy="186.6" r="11.6" stroke="#0000ff" stroke-width="3.6" fill="none"/>
<text transform="translate(2131.4,205.1) scale(1.0,1.03)" font-size="56" text-anchor="start">NTs</text>
<text transform="translate(1845,859) scale(1.0,1.03)" font-size="56" text-anchor="middle">T (K)</text>
<text transform="translate(1264.8,343.3) rotate(-90) scale(1.03,1)" font-size="56" text-anchor="middle"><tspan font-style="italic">H</tspan><tspan font-size="36" dy="10">K</tspan><tspan dy="-10"> (Oe)</tspan></text>
<path d="M258.3,1379.3 L270.1,1399.6 M287.1,1427.5 L297.9,1444.4 M318.1,1446.6 L323.5,1441 M338.9,1413.6 L359.2,1332.5 M376.2,1306.8 L406.8,1283.4 M434.5,1266.5 L461.6,1253.5 M605.7,1254.8 L629.7,1254.1 M657.8,1265 L775.6,1377.3 M801.7,1396.4 L914.5,1457.7 M941,1476.3 L1058,1580.6" stroke="#ff0000" stroke-width="4.5" fill="none" stroke-linecap="butt"/>
<circle cx="250.1" cy="1365.2" r="10" stroke="#ff0000" stroke-width="3.3" fill="none"/>
<circle cx="278.4" cy="1413.7" r="10" stroke="#ff0000" stroke-width="3.3" fill="none"/>
<circle cx="306.6" cy="1458.2" r="10" stroke="#ff0000" stroke-width="3.3" fill="none"/>
<circle cx="334.9" cy="1429.4" r="10" stroke="#ff0000" stroke-width="3.3" fill="none"/>
<circle cx="363.2" cy="1316.7" r="10" stroke="#ff0000" stroke-width="3.3" fill="none"/>
<circle cx="419.8" cy="1273.5" r="10" stroke="#ff0000" stroke-width="3.3" fill="none"/>
<circle cx="476.3" cy="1246.5" r="10" stroke="#ff0000" stroke-width="3.3" fill="none"/>
<circle cx="504.6" cy="1238.9" r="10" stroke="#ff0000" stroke-width="3.3" fill="none"/>
<circle cx="532.9" cy="1241.3" r="10" stroke="#ff0000" stroke-width="3.3" fill="none"/>
<circle cx="561.2" cy="1249.4" r="10" stroke="#ff0000" stroke-width="3.3" fill="none"/>
<circle cx="589.4" cy="1255.2" r="10" stroke="#ff0000" stroke-width="3.3" fill="none"/>
<circle cx="646" cy="1253.7" r="10" stroke="#ff0000" stroke-width="3.3" fill="none"/>
<circle cx="787.4" cy="1388.6" r="10" stroke="#ff0000" stroke-width="3.3" fill="none"/>
<circle cx="928.8" cy="1465.5" r="10" stroke="#ff0000" stroke-width="3.3" fill="none"/>
<circle cx="1070.2" cy="1591.4" r="10" stroke="#ff0000" stroke-width="3.3" fill="none"/>
<path d="M257.8,1247.3 L270.7,1271.4 M285.9,1300.3 L299.1,1325.8 M317.6,1328.3 L323.9,1321.4 M338.3,1293.4 L359.9,1190 M372.8,1160.8 L410.1,1109.9 M433.7,1088.2 L462.4,1070.7 M517.6,1052.3 L519.9,1050.6 M545,1051.6 L549.1,1055.4 M602.7,1089.8 L632.7,1111.1 M660.6,1127.9 L772.8,1184.2 M798.6,1203.3 L917.6,1328.4 M942.3,1349.3 L1056.7,1425.7" stroke="#0000ff" stroke-width="4.5" fill="none" stroke-linecap="butt"/>
<circle cx="250.1" cy="1232.9" r="10" stroke="#0000ff" stroke-width="3.3" fill="none"/>
<circle cx="278.4" cy="1285.8" r="10" stroke="#0000ff" stroke-width="3.3" fill="none"/>
<circle cx="306.6" cy="1340.3" r="10" stroke="#0000ff" stroke-width="3.3" fill="none"/>
<circle cx="334.9" cy="1309.4" r="10" stroke="#0000ff" stroke-width="3.3" fill="none"/>
<circle cx="363.2" cy="1174" r="10" stroke="#0000ff" stroke-width="3.3" fill="none"/>
<circle cx="419.8" cy="1096.7" r="10" stroke="#0000ff" stroke-width="3.3" fill="none"/>
<circle cx="476.3" cy="1062.2" r="10" stroke="#0000ff" stroke-width="3.3" fill="none"/>
<circle cx="504.6" cy="1062.2" r="10" stroke="#0000ff" stroke-width="3.3" fill="none"/>
<circle cx="532.9" cy="1040.7" r="10" stroke="#0000ff" stroke-width="3.3" fill="none"/>
<circle cx="561.2" cy="1066.3" r="10" stroke="#0000ff" stroke-width="3.3" fill="none"/>
<circle cx="589.4" cy="1080.3" r="10" stroke="#0000ff" stroke-width="3.3" fill="none"/>
<circle cx="646" cy="1120.6" r="10" stroke="#0000ff" stroke-width="3.3" fill="none"/>
<circle cx="787.4" cy="1191.5" r="10" stroke="#0000ff" stroke-width="3.3" fill="none"/>
<circle cx="928.8" cy="1340.2" r="10" stroke="#0000ff" stroke-width="3.3" fill="none"/>
<circle cx="1070.2" cy="1434.8" r="10" stroke="#0000ff" stroke-width="3.3" fill="none"/>
<line x1="221.8" y1="945.7" x2="1070.2" y2="945.7" stroke="#6a6a6a" stroke-width="3.4"/>
<line x1="221.8" y1="944.5" x2="221.8" y2="1620.4" stroke="#222" stroke-width="2.6"/>
<line x1="1070.2" y1="944.5" x2="1070.2" y2="1620.4" stroke="#222" stroke-width="2.4"/>
<line x1="220.6" y1="1620.4" x2="1071.4" y2="1620.4" stroke="#333" stroke-width="3"/>
<line x1="221.8" y1="1620.4" x2="221.8" y2="1632.4" stroke="#222" stroke-width="2.6"/>
<text transform="translate(221.8,1684.7) scale(1.0,1.03)" font-size="56" text-anchor="middle">0</text>
<line x1="504.6" y1="1620.4" x2="504.6" y2="1632.4" stroke="#222" stroke-width="2.6"/>
<text transform="translate(504.6,1684.7) scale(1.0,1.03)" font-size="56" text-anchor="middle">100</text>
<line x1="787.4" y1="1620.4" x2="787.4" y2="1632.4" stroke="#222" stroke-width="2.6"/>
<text transform="translate(787.4,1684.7) scale(1.0,1.03)" font-size="56" text-anchor="middle">200</text>
<line x1="1070.2" y1="1620.4" x2="1070.2" y2="1632.4" stroke="#222" stroke-width="2.6"/>
<text transform="translate(1070.2,1684.7) scale(1.0,1.03)" font-size="56" text-anchor="middle">300</text>
<line x1="209.3" y1="1522.9" x2="221.8" y2="1522.9" stroke="#222" stroke-width="2.6"/>
<text transform="translate(201,1537.9) scale(1.0,1.03)" font-size="56" text-anchor="end">0.02</text>
<line x1="209.3" y1="1330.5" x2="221.8" y2="1330.5" stroke="#222" stroke-width="2.6"/>
<text transform="translate(201,1345.5) scale(1.0,1.03)" font-size="56" text-anchor="end">0.03</text>
<line x1="209.3" y1="1138.1" x2="221.8" y2="1138.1" stroke="#222" stroke-width="2.6"/>
<text transform="translate(201,1153.1) scale(1.0,1.03)" font-size="56" text-anchor="end">0.04</text>
<line x1="209.3" y1="945.7" x2="221.8" y2="945.7" stroke="#222" stroke-width="2.6"/>
<text transform="translate(201,960.7) scale(1.0,1.03)" font-size="56" text-anchor="end">0.05</text>
<text transform="translate(245.8,1014.6) scale(1.0,1.03)" font-size="56" text-anchor="start">c)</text>
<text transform="translate(644.7,1754) scale(1.0,1.03)" font-size="56" text-anchor="middle">T (K)</text>
<text transform="translate(63.4,1255.8) rotate(-90) scale(1.03,1)" font-size="56" text-anchor="middle"><tspan class="g">&#951;</tspan> (a.u.)</text>
<path d="M1511.8,1443.2 L1526,1413.2 M1536.9,1382.7 L1557.2,1301.2 M1572.2,1273.4 L1606.4,1236.6 M1630.3,1214.6 L1660.9,1190.8 M1802.1,1142.2 L1826.9,1135.5 M1858.9,1131 L1967.1,1129.7 M1997.2,1120.8 L2110.4,1049.2 M2138.4,1032.5 L2250.7,969.4" stroke="#ff0000" stroke-width="4.5" fill="none" stroke-linecap="butt"/>
<circle cx="1448.6" cy="1459.2" r="10" stroke="#ff0000" stroke-width="3.3" fill="none"/>
<circle cx="1476.7" cy="1475.7" r="10" stroke="#ff0000" stroke-width="3.3" fill="none"/>
<circle cx="1504.9" cy="1457.9" r="10" stroke="#ff0000" stroke-width="3.3" fill="none"/>
<circle cx="1533" cy="1398.5" r="10" stroke="#ff0000" stroke-width="3.3" fill="none"/>
<circle cx="1561.2" cy="1285.4" r="10" stroke="#ff0000" stroke-width="3.3" fill="none"/>
<circle cx="1617.5" cy="1224.6" r="10" stroke="#ff0000" stroke-width="3.3" fill="none"/>
<circle cx="1673.8" cy="1180.8" r="10" stroke="#ff0000" stroke-width="3.3" fill="none"/>
<circle cx="1701.9" cy="1169" r="10" stroke="#ff0000" stroke-width="3.3" fill="none"/>
<circle cx="1730.1" cy="1161.6" r="10" stroke="#ff0000" stroke-width="3.3" fill="none"/>
<circle cx="1758.2" cy="1152.6" r="10" stroke="#ff0000" stroke-width="3.3" fill="none"/>
<circle cx="1786.4" cy="1146.5" r="10" stroke="#ff0000" stroke-width="3.3" fill="none"/>
<circle cx="1842.7" cy="1131.2" r="10" stroke="#ff0000" stroke-width="3.3" fill="none"/>
<circle cx="1983.4" cy="1129.5" r="10" stroke="#ff0000" stroke-width="3.3" fill="none"/>
<circle cx="2124.2" cy="1040.5" r="10" stroke="#ff0000" stroke-width="3.3" fill="none"/>
<circle cx="2264.9" cy="961.4" r="10" stroke="#ff0000" stroke-width="3.3" fill="none"/>
<path d="M1460.6,1495.7 L1464.7,1499.4 M1513.6,1495.7 L1524.2,1479.2 M1537.1,1449.7 L1557,1374.3 M1573.2,1347.5 L1605.4,1318.3 M1632.4,1300.8 L1658.8,1289.1 M1802.5,1256.6 L1826.5,1259.9 M1858.9,1262.2 L1967.1,1263 M1999.7,1262.9 L2107.9,1261.2 M2136.7,1250.6 L2252.3,1154.9" stroke="#0000ff" stroke-width="4.5" fill="none" stroke-linecap="butt"/>
<circle cx="1448.6" cy="1484.7" r="10" stroke="#0000ff" stroke-width="3.3" fill="none"/>
<circle cx="1476.7" cy="1510.4" r="10" stroke="#0000ff" stroke-width="3.3" fill="none"/>
<circle cx="1504.9" cy="1509.4" r="10" stroke="#0000ff" stroke-width="3.3" fill="none"/>
<circle cx="1533" cy="1465.5" r="10" stroke="#0000ff" stroke-width="3.3" fill="none"/>
<circle cx="1561.2" cy="1358.5" r="10" stroke="#0000ff" stroke-width="3.3" fill="none"/>
<circle cx="1617.5" cy="1307.3" r="10" stroke="#0000ff" stroke-width="3.3" fill="none"/>
<circle cx="1673.8" cy="1282.6" r="10" stroke="#0000ff" stroke-width="3.3" fill="none"/>
<circle cx="1701.9" cy="1275.2" r="10" stroke="#0000ff" stroke-width="3.3" fill="none"/>
<circle cx="1730.1" cy="1259.4" r="10" stroke="#0000ff" stroke-width="3.3" fill="none"/>
<circle cx="1758.2" cy="1253.1" r="10" stroke="#0000ff" stroke-width="3.3" fill="none"/>
<circle cx="1786.4" cy="1254.4" r="10" stroke="#0000ff" stroke-width="3.3" fill="none"/>
<circle cx="1842.7" cy="1262.1" r="10" stroke="#0000ff" stroke-width="3.3" fill="none"/>
<circle cx="1983.4" cy="1263.1" r="10" stroke="#0000ff" stroke-width="3.3" fill="none"/>
<circle cx="2124.2" cy="1261" r="10" stroke="#0000ff" stroke-width="3.3" fill="none"/>
<circle cx="2264.9" cy="1144.5" r="10" stroke="#0000ff" stroke-width="3.3" fill="none"/>
<line x1="1420.4" y1="945.7" x2="2264.9" y2="945.7" stroke="#6a6a6a" stroke-width="3.4"/>
<line x1="1420.4" y1="944.5" x2="1420.4" y2="1616.9" stroke="#222" stroke-width="2.6"/>
<line x1="2264.9" y1="944.5" x2="2264.9" y2="1616.9" stroke="#222" stroke-width="2.4"/>
<line x1="1419.2" y1="1616.9" x2="2266.1" y2="1616.9" stroke="#333" stroke-width="2.8"/>
<line x1="1420.4" y1="1616.9" x2="1420.4" y2="1627.9" stroke="#222" stroke-width="2.6"/>
<text transform="translate(1418.4,1680) scale(1.0,1.03)" font-size="56" text-anchor="middle">0</text>
<line x1="1701.9" y1="1616.9" x2="1701.9" y2="1627.9" stroke="#222" stroke-width="2.6"/>
<text transform="translate(1699.9,1680) scale(1.0,1.03)" font-size="56" text-anchor="middle">100</text>
<line x1="1983.4" y1="1616.9" x2="1983.4" y2="1627.9" stroke="#222" stroke-width="2.6"/>
<text transform="translate(1981.4,1680) scale(1.0,1.03)" font-size="56" text-anchor="middle">200</text>
<line x1="2264.9" y1="1616.9" x2="2264.9" y2="1627.9" stroke="#222" stroke-width="2.6"/>
<text transform="translate(2262.9,1680) scale(1.0,1.03)" font-size="56" text-anchor="middle">300</text>
<line x1="1407.9" y1="1616.9" x2="1420.4" y2="1616.9" stroke="#222" stroke-width="2.6"/>
<text transform="translate(1397.5,1631.9) scale(1.0,1.03)" font-size="56" text-anchor="end">0.2</text>
<line x1="1407.9" y1="1424.8" x2="1420.4" y2="1424.8" stroke="#222" stroke-width="2.6"/>
<text transform="translate(1397.5,1439.8) scale(1.0,1.03)" font-size="56" text-anchor="end">0.3</text>
<line x1="1407.9" y1="1232.7" x2="1420.4" y2="1232.7" stroke="#222" stroke-width="2.6"/>
<text transform="translate(1397.5,1247.7) scale(1.0,1.03)" font-size="56" text-anchor="end">0.4</text>
<line x1="1407.9" y1="1040.6" x2="1420.4" y2="1040.6" stroke="#222" stroke-width="2.6"/>
<text transform="translate(1397.5,1055.6) scale(1.0,1.03)" font-size="56" text-anchor="end">0.5</text>
<text transform="translate(1453.6,1014.6) scale(1.0,1.03)" font-size="56" text-anchor="start">d)</text>
<text transform="translate(1841.9,1733.4) scale(1.0,1.03)" font-size="56" text-anchor="middle">T (K)</text>
<text transform="translate(1279,1267) rotate(-90)" font-size="56" text-anchor="middle">(<tspan class="g">&#916;&#967;</tspan><tspan font-size="38" dy="15">T</tspan><tspan dy="-15">/</tspan><tspan class="g">&#967;</tspan><tspan font-size="38" dy="15">T</tspan><tspan dy="-15">)</tspan><tspan font-size="38" dy="15">max</tspan></text>
</svg></body></html>
